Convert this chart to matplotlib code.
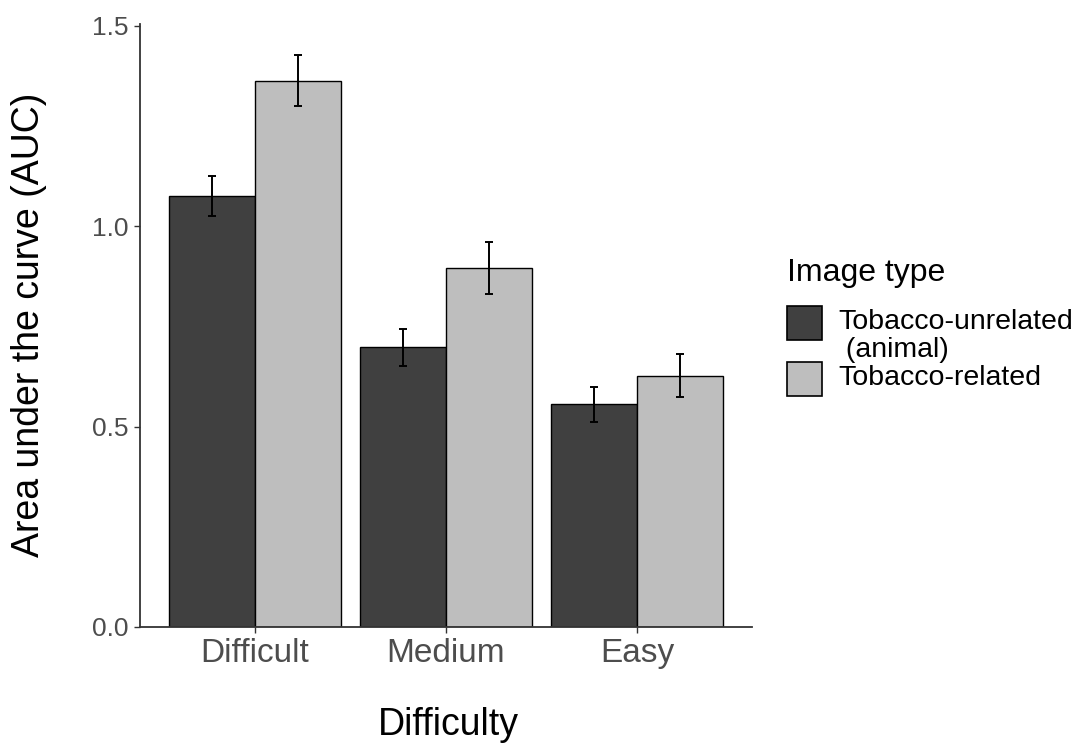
import matplotlib
matplotlib.use("Agg")
import matplotlib.pyplot as plt
from matplotlib.patches import Rectangle
import numpy as np

plt.rcParams['font.family'] = ['Liberation Sans', 'DejaVu Sans']

difficulty = ["Difficult", "Medium", "Easy"]
image_types = ["Tobacco-unrelated\n (animal)", "Tobacco-related"]
auc_unrelated = [1.075, 0.698, 0.555]
auc_related = [1.363, 0.895, 0.627]
se_unrelated = [0.050, 0.046, 0.044]
se_related = [0.064, 0.065, 0.053]
fills = ["#404040", "#BEBEBE"]

W, H = 1080, 747
fig = plt.figure(figsize=(W / 100, H / 100), dpi=100)
ax = fig.add_axes([140 / W, 1 - 627 / H, (752 - 140) / W, (627 - 24) / H])

x = np.arange(1, len(difficulty) + 1)
bw = 0.45
for off, vals, errs, col in [(-bw / 2, auc_unrelated, se_unrelated, fills[0]),
                             (bw / 2, auc_related, se_related, fills[1])]:
    ax.bar(x + off, vals, width=bw, color=col, edgecolor="black", linewidth=1.0, zorder=2)
    ax.errorbar(x + off, vals, yerr=errs, fmt="none", ecolor="black",
                elinewidth=1.4, capsize=2.6, capthick=1.4, zorder=3)

ax.set_xlim(0.4, 3.6)
ax.set_ylim(0, 1.504)
ax.set_xticks(x)
ax.set_xticklabels(difficulty)
ax.set_yticks([0.0, 0.5, 1.0, 1.5])
ax.set_yticklabels(["0.0", "0.5", "1.0", "1.5"])
for s in ["top", "right"]:
    ax.spines[s].set_visible(False)
for s in ["left", "bottom"]:
    ax.spines[s].set_color("#333333")
    ax.spines[s].set_linewidth(1.3)
ax.tick_params(axis="x", length=4, width=1.0, color="#333333", labelcolor="#4D4D4D",
               labelsize=24, pad=4)
ax.tick_params(axis="y", length=4, width=1.0, color="#333333", labelcolor="#4D4D4D",
               labelsize=19, pad=4)

fig.text(448 / W, 1 - 725 / H, "Difficulty", ha="center", va="center", fontsize=27, color="black")
fig.text(29 / W, 1 - 325 / H, "Area under the curve (AUC)", ha="center", va="center",
         rotation=90, fontsize=27, color="black")

# legend
fig.text(787 / W, 1 - 273 / H, "Image type", ha="left", va="center", fontsize=23, color="black")
key_y = [306, 362]
for yk, col, lab in zip(key_y, fills, image_types):
    fig.add_artist(Rectangle((787 / W, 1 - (yk + 34) / H), 35 / W, 34 / H,
                             transform=fig.transFigure, facecolor=col,
                             edgecolor="black", linewidth=1.2))
    lines = lab.split("\n")
    fig.text(838 / W, 1 - (yk + 16) / H, lines[0], ha="left", va="center",
             fontsize=20.5, color="black")
    if len(lines) > 1:
        fig.text(838 / W, 1 - (yk + 44) / H, lines[1], ha="left", va="center",
                 fontsize=20.5, color="black")

fig.savefig("out.png", dpi=100)
